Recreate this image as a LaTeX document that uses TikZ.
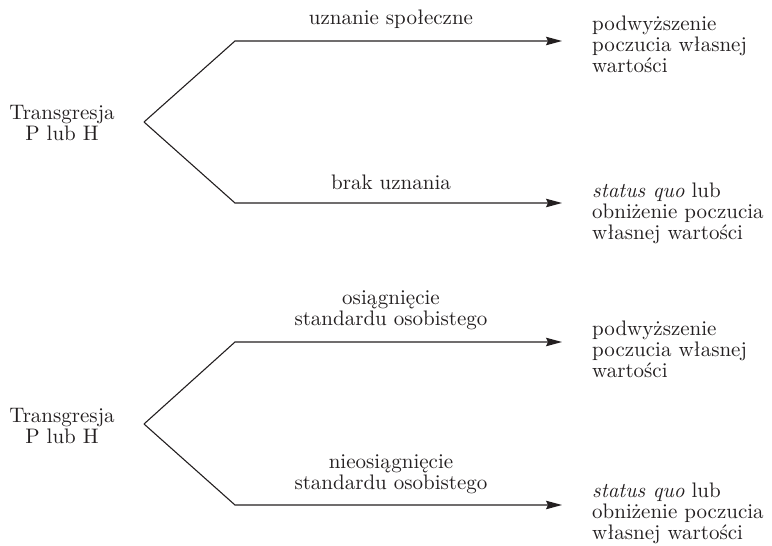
\documentclass[tikz,border=0pt]{standalone}
\usepackage{fontspec}
\setmainfont{lmroman10}[Extension=.otf, UprightFont=*-regular, ItalicFont=*-italic, BoldFont=*-bold]
\usetikzlibrary{arrows.meta}
\definecolor{ink}{HTML}{231F20}
\begin{document}
\begin{tikzpicture}[x=1pt,y=-1pt,
  txt/.style={font=\fontsize{21}{21}\selectfont, text=ink, inner sep=0pt, align=center},
  res/.style={txt, align=left, anchor=west},
  branch/.style={draw=ink, line width=1.1pt, line join=miter},
  arr/.style={branch, -{Stealth[length=16pt,width=8.5pt,inset=2pt]}}
]
\useasboundingbox (0,0) rectangle (772,546);

% ---------- group 1 ----------
\node[txt] (src1) at (62,123) {Transgresja\\P lub H};
\coordinate (v1) at (144,122);
\coordinate (u1) at (235,41);
\coordinate (d1) at (235,203);
\coordinate (e1) at (562,41);
\coordinate (f1) at (562,203);
\node[txt] (l1) at (391,19) {uznanie społeczne};
\node[txt] (l2) at (391,182) {brak uznania};
\node[res] (r1) at (592,44) {podwyższenie\\poczucia własnej\\wartości};
\node[res] (r2) at (592,213) {\textit{status quo} lub\\obniżenie poczucia\\własnej wartości};
\draw[arr] (v1) -- (u1) -- (e1);
\draw[arr] (v1) -- (d1) -- (f1);

% ---------- group 2 ----------
\node[txt] (src2) at (62,426) {Transgresja\\P lub H};
\coordinate (v2) at (144,424);
\coordinate (u2) at (235,342);
\coordinate (d2) at (235,505);
\coordinate (e2) at (562,342);
\coordinate (f2) at (562,505);
\node[txt] (l3) at (391,310) {osiągnięcie\\standardu osobistego};
\node[txt] (l4) at (391,474) {nieosiągnięcie\\standardu osobistego};
\node[res] (r3) at (592,349) {podwyższenie\\poczucia własnej\\wartości};
\node[res] (r4) at (592,513) {\textit{status quo} lub\\obniżenie poczucia\\własnej wartości};
\draw[arr] (v2) -- (u2) -- (e2);
\draw[arr] (v2) -- (d2) -- (f2);
\end{tikzpicture}
\end{document}
